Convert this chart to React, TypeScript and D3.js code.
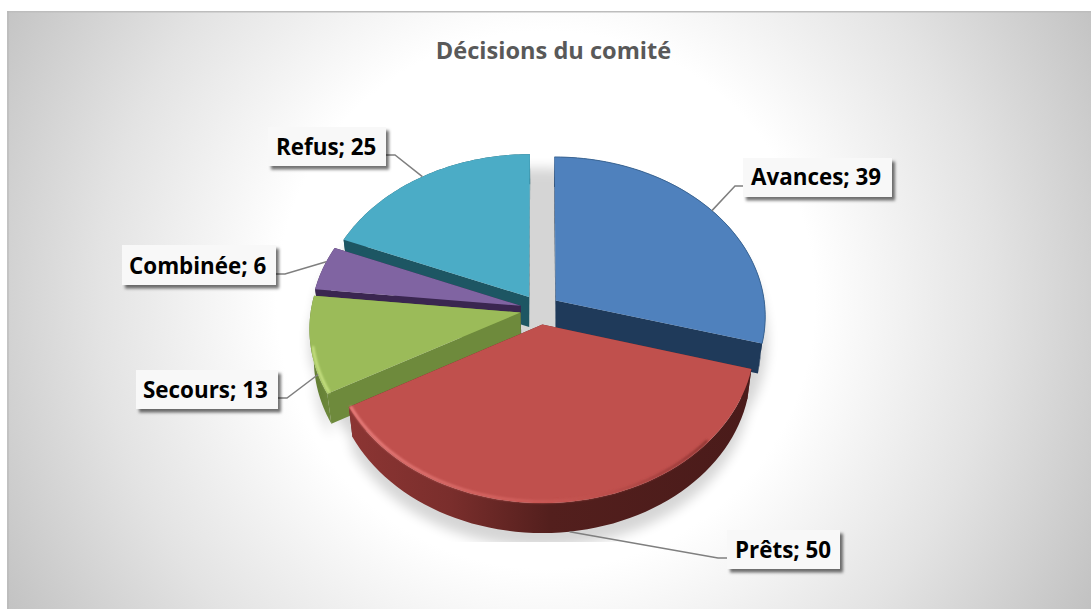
import React from 'react';
import * as d3 from 'd3';

const categories = ['Avances', 'Prêts', 'Secours', 'Combinée', 'Refus'];
const values = [39, 50, 13, 6, 25];
const title = 'Décisions du comité';

const topColors = ['#4f81bd', '#c0504d', '#9bbb59', '#8064a2', '#4bacc6'];
const sideColors = ['#1f3a5a', '#6a2826', '#6e8a3c', '#3a2650', '#1d5663'];
const drawOrder = [0, 4, 3, 2, 1];

// projection of the tilted disc
const cx = 540, cy = 309.5, A = 209.5, B = 158.6, persp = 0.0943, explode = 0.095, depth = 30, depthScale = 0.981;
type P = [number, number];
const project = (u: number, v: number): P => {
  const s = 1 / (1 - persp * v);
  return [cx + A * u * s, cy + B * v * s];
};
const lower = (p: P): P => [cx + (p[0] - cx) * depthScale, p[1] + depth];
const line = d3.line<P>().x(d => d[0]).y(d => d[1]);

const pieData = d3.pie<number>().sort(null)(values);
const slices = pieData.map((a, i) => {
  const mid = (a.startAngle + a.endAngle) / 2;
  const ou = Math.sin(mid) * explode, ov = -Math.cos(mid) * explode;
  const at = (t: number, r = 1) => project(ou + Math.sin(t) * r, ov - Math.cos(t) * r);
  const steps = d3.range(0, 61).map(k => a.startAngle + (a.endAngle - a.startAngle) * k / 60);
  const arc = steps.map(t => at(t));
  const apex = project(ou, ov);
  return { i, mid, at, steps, arc, apex, start: a.startAngle, end: a.endAngle };
});
const fullDisc = d3.range(0, 121).map(k => {
  const t = (k / 120) * 2 * Math.PI;
  return project(Math.sin(t) * 1.08, -Math.cos(t) * 1.08);
});

// label boxes: [x, y, w, h, textX, baseline], leader elbow, where on the arc the leader lands
const labelBoxes: Record<string, number[]> = {
  Avances: [743, 158, 149, 39, 751, 185],
  'Prêts': [727, 530, 113, 39, 735, 558],
  Secours: [136, 370, 142, 39, 143, 398],
  'Combinée': [122, 245, 154, 40, 129, 274],
  Refus: [268, 127, 118, 39, 276, 155],
};
const leaders: Record<string, number[][]> = {
  Avances: [[747, 186], [735, 186]],
  'Prêts': [[730, 558], [718, 558]],
  Secours: [[275, 398], [287, 398]],
  'Combinée': [[273, 274], [285, 274]],
  Refus: [[383, 155], [395, 155]],
};
const leaderFraction = [0.5, 0.5, 0.2, 0.65, 0.5];

const font = '"Open Sans", "Noto Sans", sans-serif';

export default function App() {
  const sliceShape = (s: typeof slices[number]) => line([s.apex, ...s.arc])! + 'Z';
  const arcSide = (s: typeof slices[number]) => line([...s.arc, ...s.arc.map(lower).reverse()])! + 'Z';
  const edgeSide = (s: typeof slices[number], p: P) =>
    line([s.apex, p, lower(p), lower(s.apex)])! + 'Z';
  const ordered = drawOrder.map(i => slices[i]);
  return (
    <svg width={1091} height={609} style={{ position: 'absolute', left: 0, top: 0, display: 'block' }}>
      <defs>
        <radialGradient id="bg" gradientUnits="userSpaceOnUse" cx={546} cy={300} r={640}>
          <stop offset="0" stopColor="#ffffff" />
          <stop offset="0.42" stopColor="#ffffff" />
          <stop offset="0.7" stopColor="#e3e3e3" />
          <stop offset="1" stopColor="#bfbfbf" />
        </radialGradient>
        <linearGradient id="redSide" gradientUnits="userSpaceOnUse" x1={350} y1={0} x2={750} y2={0}>
          <stop offset="0" stopColor="#8c3533" />
          <stop offset="0.25" stopColor="#7a2e2c" />
          <stop offset="0.5" stopColor="#531f1d" />
          <stop offset="1" stopColor="#4a1b1a" />
        </linearGradient>
        <linearGradient id="greenSide" gradientUnits="userSpaceOnUse" x1={310} y1={0} x2={340} y2={0}>
          <stop offset="0" stopColor="#5f7a30" />
          <stop offset="1" stopColor="#748f42" />
        </linearGradient>
        <linearGradient id="redBevel" gradientUnits="userSpaceOnUse" x1={350} y1={0} x2={700} y2={0}>
          <stop offset="0" stopColor="#ee8583" />
          <stop offset="0.45" stopColor="#d4625f" />
          <stop offset="0.7" stopColor="#c0504d" />
          <stop offset="1" stopColor="#8f3533" />
        </linearGradient>
        <filter id="blurShadow" x="-10%" y="-10%" width="120%" height="120%">
          <feGaussianBlur stdDeviation="6" />
        </filter>
        <filter id="soft" x="-5%" y="-5%" width="110%" height="110%">
          <feGaussianBlur stdDeviation="1" />
        </filter>
        <filter id="boxShadow" x="-10%" y="-20%" width="125%" height="150%">
          <feDropShadow dx="3" dy="3.5" stdDeviation="1.8" floodColor="#000" floodOpacity="0.55" />
        </filter>
        <clipPath id="shadowClip">
          <rect x={290} y={150} width={492} height={392} />
        </clipPath>
      </defs>

      <rect x={7} y={11} width={1084} height={598} fill="url(#bg)" />
      <rect x={7} y={11} width={1084} height={1.5} fill="#bdbdbd" />
      <rect x={7} y={11} width={2} height={598} fill="#b5b5b5" opacity={0.5} />

      <text x={553.5} y={59} textAnchor="middle" fontFamily={font} fontWeight={700} fontSize={23.6} fill="#595959">
        {title}
      </text>

      <g clipPath="url(#shadowClip)">
        <g filter="url(#blurShadow)" transform="translate(0,14)" opacity={0.16}>
          <path d={line(fullDisc)! + 'Z'} fill="#000" />
          {ordered.map(s => (
            <g key={s.i} fill="#000">
              <path d={arcSide(s)} />
            </g>
          ))}
        </g>
      </g>

      {ordered.map(s => {
        const side = s.i === 1 ? 'url(#redSide)' : s.i === 2 ? 'url(#greenSide)' : sideColors[s.i];
        return (
          <g key={s.i}>
            <path d={edgeSide(s, s.arc[60])} fill={sideColors[s.i]} />
            <path d={edgeSide(s, s.arc[0])} fill={sideColors[s.i]} />
            <path d={arcSide(s)} fill={side} />
            <path d={sliceShape(s)} fill={topColors[s.i]} />
            {s.i === 1 && (
              <path
                d={line(s.steps.map(t => s.at(t, 0.992)).slice(12))!}
                fill="none"
                stroke="url(#redBevel)"
                strokeWidth={2.5}
                filter="url(#soft)"
              />
            )}
            {s.i === 2 && (
              <path
                d={line(s.steps.map(t => s.at(t, 0.99)).slice(0, 30))!}
                fill="none"
                stroke="#c9e384"
                strokeWidth={2.5}
                filter="url(#soft)"
              />
            )}
            {s.i === 0 && <path d={line(s.arc)!} fill="none" stroke="#3c6796" strokeWidth={1} />}
          </g>
        );
      })}

      {slices.map(s => {
        const name = categories[s.i];
        const edge = s.at(s.start + (s.end - s.start) * leaderFraction[s.i]);
        const end: P = s.i === 1 ? lower(edge) : edge;
        return (
          <path
            key={name}
            d={line([...(leaders[name] as P[]), end])!}
            fill="none"
            stroke="#7f7f7f"
            strokeWidth={1.5}
          />
        );
      })}

      {slices.map(s => {
        const name = categories[s.i];
        const [x, y, w, h, tx, ty] = labelBoxes[name];
        return (
          <g key={name}>
            <rect x={x} y={y} width={w} height={h} fill="#f8f8f8" filter="url(#boxShadow)" />
            <text x={tx} y={ty} fontFamily={font} fontWeight={700} fontSize={22.4} fill="#000">
              {`${name}; ${values[s.i]}`}
            </text>
          </g>
        );
      })}
    </svg>
  );
}
